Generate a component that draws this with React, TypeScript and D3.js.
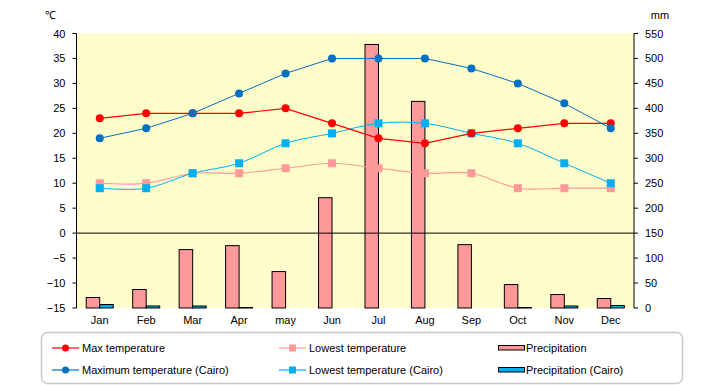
import React, { useEffect, useRef } from 'react';
import * as d3 from 'd3';

const months = ['Jan', 'Feb', 'Mar', 'Apr', 'may', 'Jun', 'Jul', 'Aug', 'Sep', 'Oct', 'Nov', 'Dec'];
const maxTemp = [23, 24, 24, 24, 25, 22, 19, 18, 20, 21, 22, 22];
const lowTemp = [10, 10, 12, 12, 13, 14, 13, 12, 12, 9, 9, 9];
const precip = [21, 37, 117, 125, 73, 221, 528, 414, 127, 47, 27, 19];
const maxTempCairo = [19, 21, 24, 28, 32, 35, 35, 35, 33, 30, 26, 21];
const lowTempCairo = [9, 9, 12, 14, 18, 20, 22, 22, 20, 18, 14, 10];
const precipCairo = [7, 4, 4, 1, 0, 0, 0, 0, 0, 1, 4, 5];
const tempTicks = [40, 35, 30, 25, 20, 15, 10, 5, 0, -5, -10, -15];
const mmTicks = [550, 500, 450, 400, 350, 300, 250, 200, 150, 100, 50, 0];

const FONT = '"Liberation Sans", Arial, sans-serif';

const App = () => {
    const svgRef = useRef(null);

    useEffect(() => {
        const svg = d3.select(svgRef.current);
        const width = 720;
        const height = 385;
        const left = 76.5;
        const right = 634;
        const top = 33.5;
        const bottom = 308;

        svg.attr('width', width).attr('height', height).selectAll('*').remove();

        const x = d3.scaleBand().domain(months).range([left, right]);
        const y = d3.scaleLinear().domain([-15, 40]).range([bottom, top]);
        const y2 = d3.scaleLinear().domain([0, 550]).range([bottom, top]);
        const cx = (i) => x(months[i]) + x.bandwidth() / 2;

        // plot background
        svg.append('rect')
            .attr('x', left).attr('y', top)
            .attr('width', right - left).attr('height', bottom - top)
            .attr('fill', '#FFFCCB');

        // bars
        const barW = 13.5;
        svg.selectAll('.bar1')
            .data(precip)
            .enter()
            .append('rect')
            .attr('x', (d, i) => cx(i) - barW)
            .attr('y', d => y2(d))
            .attr('width', barW)
            .attr('height', d => y2(0) - y2(d))
            .attr('fill', '#FF9999')
            .attr('stroke', '#000')
            .attr('stroke-width', 1);

        svg.selectAll('.bar2')
            .data(precipCairo.map((v, i) => ({ v, i })).filter(d => d.v > 0))
            .enter()
            .append('rect')
            .attr('x', d => cx(d.i))
            .attr('y', d => y2(d.v))
            .attr('width', barW)
            .attr('height', d => y2(0) - y2(d.v))
            .attr('fill', '#00B0F0')
            .attr('stroke', '#000')
            .attr('stroke-width', 1);

        // zero line
        svg.append('line')
            .attr('x1', left).attr('x2', right)
            .attr('y1', y(0)).attr('y2', y(0))
            .attr('stroke', '#000').attr('stroke-width', 1);

        // axes
        const leftAxis = svg.append('g').attr('transform', `translate(${left},0)`);
        leftAxis.append('line').attr('y1', top).attr('y2', bottom).attr('stroke', '#000');
        tempTicks.forEach(t => {
            leftAxis.append('line').attr('x1', -4).attr('x2', 0)
                .attr('y1', y(t)).attr('y2', y(t)).attr('stroke', '#000');
            leftAxis.append('text').attr('x', -11).attr('y', y(t) + 4)
                .attr('text-anchor', 'end').attr('font-size', 11).attr('font-family', FONT)
                .text(t < 0 ? '\u2212' + Math.abs(t) : t);
        });

        const rightAxis = svg.append('g').attr('transform', `translate(${right},0)`);
        rightAxis.append('line').attr('y1', top).attr('y2', bottom).attr('stroke', '#000');
        mmTicks.forEach(t => {
            rightAxis.append('line').attr('x1', 0).attr('x2', 4)
                .attr('y1', y2(t)).attr('y2', y2(t)).attr('stroke', '#000');
            rightAxis.append('text').attr('x', 11).attr('y', y2(t) + 4)
                .attr('text-anchor', 'start').attr('font-size', 11).attr('font-family', FONT)
                .text(t);
        });

        svg.selectAll('.month')
            .data(months)
            .enter()
            .append('text')
            .attr('x', (d, i) => cx(i))
            .attr('y', 324)
            .attr('text-anchor', 'middle')
            .attr('font-size', 11)
            .attr('font-family', FONT)
            .text(d => d);

        svg.append('text').attr('x', 50).attr('y', 19).attr('text-anchor', 'middle')
            .attr('font-size', 11).attr('font-family', FONT).text('\u2103');
        svg.append('text').attr('x', 660).attr('y', 19).attr('text-anchor', 'middle')
            .attr('font-size', 11).attr('font-family', FONT).text('mm');

        // lines
        const series = [
            { data: lowTemp, color: '#FF9999', shape: 'square', smooth: true, w: 1.2 },
            { data: lowTempCairo, color: '#00B0F0', shape: 'square', smooth: true, w: 1 },
            { data: maxTemp, color: '#FF0000', shape: 'circle', smooth: false, w: 1.2 },
            { data: maxTempCairo, color: '#0070C0', shape: 'circle', smooth: false, w: 1 },
        ];

        series.forEach(s => {
            const line = d3.line()
                .x((d, i) => cx(i))
                .y(d => y(d))
                .curve(s.smooth ? d3.curveCatmullRom.alpha(0) : d3.curveLinear);
            svg.append('path')
                .attr('d', line(s.data))
                .attr('fill', 'none')
                .attr('stroke', s.color)
                .attr('stroke-width', s.w);
            if (s.shape === 'circle') {
                svg.selectAll(null)
                    .data(s.data)
                    .enter()
                    .append('circle')
                    .attr('cx', (d, i) => cx(i))
                    .attr('cy', d => y(d))
                    .attr('r', 4)
                    .attr('fill', s.color);
            } else {
                svg.selectAll(null)
                    .data(s.data)
                    .enter()
                    .append('rect')
                    .attr('x', (d, i) => cx(i) - 4)
                    .attr('y', d => y(d) - 4)
                    .attr('width', 8)
                    .attr('height', 8)
                    .attr('fill', s.color);
            }
        });

        // legend
        const legend = svg.append('g');
        legend.append('rect')
            .attr('x', 41.5).attr('y', 332.5)
            .attr('width', 641).attr('height', 51)
            .attr('rx', 6)
            .attr('fill', '#fff')
            .attr('stroke', '#C8C8C8')
            .attr('stroke-width', 1.5);

        const items = [
            { label: 'Max temperature', color: '#FF0000', kind: 'circle', x: 52, y: 348 },
            { label: 'Maximum temperature (Cairo)', color: '#0070C0', kind: 'circle', x: 52, y: 370 },
            { label: 'Lowest temperature', color: '#FF9999', kind: 'square', x: 279, y: 348 },
            { label: 'Lowest temperature (Cairo)', color: '#00B0F0', kind: 'square', x: 279, y: 370 },
            { label: 'Precipitation', color: '#FF9999', kind: 'bar', x: 498, y: 348 },
            { label: 'Precipitation (Cairo)', color: '#00B0F0', kind: 'bar', x: 498, y: 370 },
        ];

        items.forEach(it => {
            if (it.kind === 'bar') {
                legend.append('rect')
                    .attr('x', it.x + 0.5).attr('y', it.y - 2.5)
                    .attr('width', 26).attr('height', 4.5)
                    .attr('fill', it.color).attr('stroke', '#000').attr('stroke-width', 1);
            } else {
                legend.append('line')
                    .attr('x1', it.x).attr('x2', it.x + 27)
                    .attr('y1', it.y).attr('y2', it.y)
                    .attr('stroke', it.color).attr('stroke-width', 1.2);
                if (it.kind === 'circle') {
                    legend.append('circle').attr('cx', it.x + 13.5).attr('cy', it.y).attr('r', 3.5).attr('fill', it.color);
                } else {
                    legend.append('rect').attr('x', it.x + 10).attr('y', it.y - 3.5)
                        .attr('width', 7).attr('height', 7).attr('fill', it.color);
                }
            }
            legend.append('text')
                .attr('x', it.x + (it.kind === 'bar' ? 28 : 30))
                .attr('y', it.y + 4)
                .attr('font-size', 11)
                .attr('font-family', FONT)
                .text(it.label);
        });
    }, []);

    return <svg ref={svgRef} style={{ position: 'absolute', left: 0, top: 0 }}></svg>;
};

export default App;
